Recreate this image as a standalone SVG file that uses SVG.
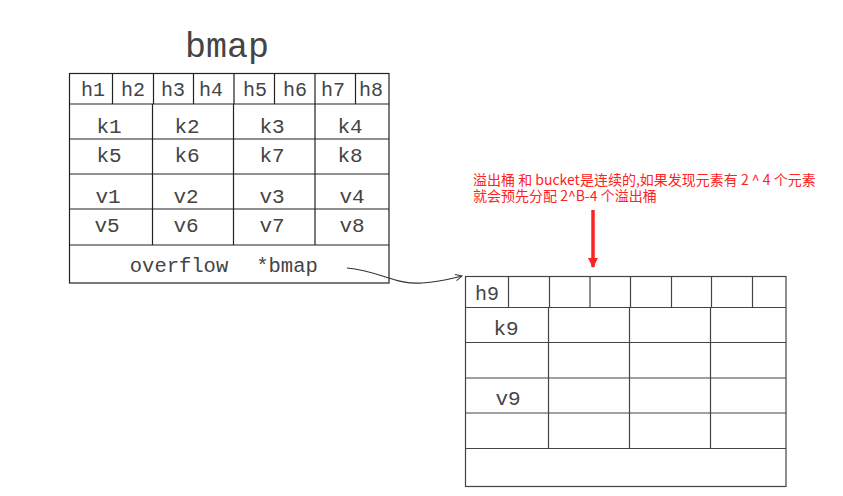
<svg xmlns="http://www.w3.org/2000/svg" width="843" height="496" viewBox="0 0 843 496">
<defs>
<style>
.mono{font-family:"Liberation Mono","Courier New",monospace;fill:#444;text-anchor:middle}
.h{font-size:20px}
.kv{font-size:21px}
.ln{stroke:#222;stroke-width:1.2;fill:none}
.ln2{stroke:#444;stroke-width:1.2;fill:none}
.note{font-family:"Noto Sans CJK SC","Noto Sans",sans-serif;font-size:14px;fill:#f22}
</style>
<marker id="open" viewBox="0 0 10 10" refX="9" refY="5" markerWidth="8" markerHeight="8" orient="auto" markerUnits="userSpaceOnUse">
<path d="M1,1 L9,5 L1,9" fill="none" stroke="#333" stroke-width="1.2"/>
</marker>
<marker id="red" viewBox="0 0 10 10" refX="9" refY="5" markerWidth="14" markerHeight="10" orient="auto" markerUnits="userSpaceOnUse">
<path d="M0,0 L10,5 L0,10 Z" fill="#f22"/>
</marker>
</defs>
<rect width="843" height="496" fill="#fff"/>

<g id="bmap-bucket">
<text class="mono" x="227" y="57" font-size="35">bmap</text>
<rect class="ln" x="69.5" y="73.5" width="319.5" height="209.5"/>
<path class="ln" d="M69.5,104 H389 M69.5,139 H389 M69.5,174 H389 M69.5,209 H389 M69.5,245 H389"/>
<path class="ln" d="M112.5,73.5 V104 M153.5,73.5 V104 M193.5,73.5 V104 M234,73.5 V104 M274.5,73.5 V104 M315,73.5 V104 M355.5,73.5 V104"/>
<path class="ln" d="M152.5,104 V245 M233.5,104 V245 M315,104 V245"/>
<g class="mono h">
<text x="93" y="96">h1</text><text x="133" y="96">h2</text><text x="173" y="96">h3</text><text x="211" y="96">h4</text>
<text x="255" y="96">h5</text><text x="295" y="96">h6</text><text x="333" y="96">h7</text><text x="371" y="96">h8</text>
</g>
<g class="mono kv">
<text x="109" y="133">k1</text><text x="187" y="133">k2</text><text x="272" y="133">k3</text><text x="350" y="133">k4</text>
<text x="109" y="162">k5</text><text x="187" y="162">k6</text><text x="272" y="162">k7</text><text x="350" y="162">k8</text>
<text x="108" y="203">v1</text><text x="186" y="203">v2</text><text x="272" y="203">v3</text><text x="352" y="203">v4</text>
<text x="107" y="232">v5</text><text x="186" y="232">v6</text><text x="272" y="232">v7</text><text x="352" y="232">v8</text>
</g>
<text class="mono" font-size="20.5" x="179" y="272">overflow</text>
<text class="mono" font-size="20.5" x="287" y="272">*bmap</text>
</g>

<g id="overflow-bucket">
<rect class="ln2" x="465.5" y="276.5" width="320.5" height="210"/>
<path class="ln2" d="M465.5,307.5 H786 M465.5,342.5 H786 M465.5,378 H786 M465.5,413 H786 M465.5,448.5 H786"/>
<path class="ln2" d="M508.5,276.5 V307.5 M549.5,276.5 V307.5 M590,276.5 V307.5 M630.5,276.5 V307.5 M671.5,276.5 V307.5 M711.5,276.5 V307.5 M752.5,276.5 V307.5"/>
<path class="ln2" d="M548.5,307.5 V448.5 M629.5,307.5 V448.5 M710.5,307.5 V448.5"/>
<text class="mono h" x="487" y="300">h9</text>
<text class="mono kv" x="506" y="335">k9</text>
<text class="mono kv" x="508" y="405">v9</text>
</g>

<g id="note">
<text class="note"><tspan x="473" y="185">溢出桶 和 bucket是连续的,如果发现元素有 2 ^ 4 个元素</tspan><tspan x="473" y="201">就会预先分配 2^B-4 个溢出桶</tspan></text>
</g>

<g id="connectors">
<path d="M347,268 C380,271 395,285 422,283 C440,282 450,279 462,276" fill="none" stroke="#333" stroke-width="1.2" marker-end="url(#open)"/>
<path d="M593,210 V267" fill="none" stroke="#f22" stroke-width="3.5" marker-end="url(#red)"/>
</g>
</svg>
